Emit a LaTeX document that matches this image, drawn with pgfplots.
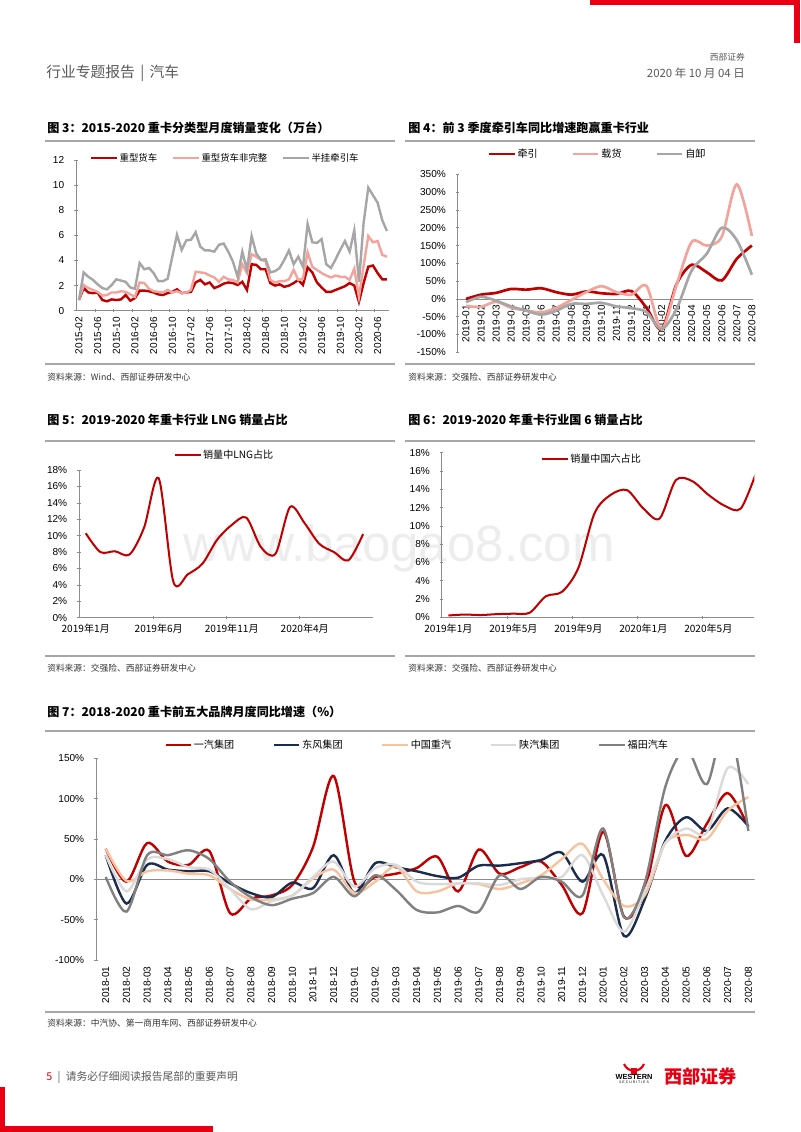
\documentclass[border=0pt]{standalone}
\usepackage{pgfplots}
\pgfplotsset{compat=1.18}
\usepackage{pgfplotstable}
\usepackage{fontspec}
\setmainfont{Liberation Sans}
\newfontfamily\cjk{Noto Sans CJK SC}

\definecolor{dred}{HTML}{C00000}
\definecolor{pinkc}{HTML}{F2A49C}
\definecolor{grayc}{HTML}{A6A6A6}
\definecolor{navyc}{HTML}{1C2C4C}
\definecolor{peachc}{HTML}{F7C39E}
\definecolor{lgrayc}{HTML}{DADADA}
\definecolor{mgrayc}{HTML}{808080}
\definecolor{axisc}{HTML}{8C8C8C}
\definecolor{sepc}{HTML}{A6A6A6}
\definecolor{brand}{HTML}{E60012}
\definecolor{txtg}{HTML}{595959}

\pgfplotsset{
  base/.style={
    scale only axis,
    axis line style={axisc, line width=0.6pt, -},
    every non boxed x axis/.append style={x axis line style=-},
    every non boxed y axis/.append style={y axis line style=-},
    tick style={axisc, line width=0.5pt},
    tick label style={font=\fontsize{7.5}{8}\selectfont, text=black},
    yticklabel style={xshift=-4pt},
    major tick length=2.5pt,
    minor tick length=2.5pt,
    tick align=inside,
    legend style={draw=none, fill=none, inner sep=0pt, outer sep=0pt, anchor=west,
      legend columns=-1, font=\cjk\fontsize{7.5}{8}\selectfont, nodes={inner sep=1.2pt}},
    legend image code/.code={\draw[##1] (0pt,0pt) -- (19pt,0pt);},
  },
}

% chart 3: monthly sales (10k units)
\pgfplotstableread{
i r p g
0 0.85 0.85 0.85
1 1.8 2.05 3.05
2 1.45 1.8 2.7
3 1.4 1.65 2.45
4 1.45 1.5 2.1
5 0.85 1.2 1.8
6 0.75 1.25 1.7
7 0.9 1.45 2.05
8 0.85 1.45 2.5
9 0.9 1.55 2.4
10 1.25 1.5 2.3
11 0.8 1.3 1.85
12 1.0 1.1 1.75
13 1.6 2.25 3.8
14 1.6 2.2 3.3
15 1.55 1.75 3.4
16 1.45 1.55 3.0
17 1.3 1.5 2.35
18 1.25 1.45 2.35
19 1.4 1.65 2.55
20 1.5 1.45 4.3
21 1.7 1.55 6.05
22 1.4 1.4 4.85
23 1.45 1.45 5.6
24 1.5 1.65 5.65
25 2.25 3.1 6.25
26 2.45 3.05 5.1
27 2.1 3.0 4.8
28 2.25 2.8 4.8
29 1.8 2.65 4.7
30 1.95 2.3 5.25
31 2.15 2.7 5.35
32 2.25 2.5 4.7
33 2.2 2.45 3.9
34 2.05 2.25 2.7
35 2.3 3.7 4.7
36 1.65 3.0 3.25
37 3.7 4.5 5.95
38 3.65 4.3 4.55
39 3.3 4.05 4.05
40 3.3 3.95 4.1
41 2.2 2.45 3.05
42 2.0 2.25 3.15
43 2.1 2.35 3.4
44 1.9 2.35 4.05
45 2.0 2.5 4.8
46 2.2 3.25 3.7
47 2.45 2.45 4.3
48 2.05 2.55 3.5
49 3.45 4.65 6.9
50 3.05 3.5 5.45
51 2.25 3.25 5.4
52 1.85 3.0 5.7
53 1.5 2.8 3.7
54 1.5 2.65 3.4
55 1.65 2.8 4.1
56 1.8 2.7 4.85
57 1.95 2.7 5.55
58 2.2 2.45 4.7
59 2.0 3.35 6.4
60 0.7 1.1 2.3
61 2.2 3.6 7.0
62 3.5 5.95 9.8
63 3.6 5.45 9.2
64 3.0 5.55 8.6
65 2.5 4.45 7.2
66 2.5 4.3 6.35
}\dataA

% chart 4: yoy growth by type (%)
\pgfplotstableread{
i q z x
0 0 -20 -9
1 12 -22 6
2 17 -8 -5
3 28 -25 -21
4 26 -32 -33
5 30 -38 -44
6 19 -25 -33
7 12 -3 -14
8 21 19 -14
9 16 36 -11
10 14 19 -21
11 22 12 -26
12 -25 36 -37
13 -85 -85 -85
14 42 40 -28
15 96 160 80
16 75 150 127
17 52 175 200
18 113 322 165
19 150 177 68
}\dataB

% chart 5: LNG share (%)
\pgfplotstableread{
i v
0 10.3
1 8.0
2 8.1
3 7.7
4 11.0
5 17.0
6 4.4
7 5.3
8 6.6
9 9.5
10 11.3
11 12.2
12 8.6
13 7.8
14 13.5
15 11.5
16 9.0
17 8.0
18 7.0
19 10.2
}\dataC

% chart 6: China VI share (%)
\pgfplotstableread{
i v
0 0.2
1 0.3
2 0.25
3 0.35
4 0.4
5 0.5
6 2.3
7 2.8
8 5.4
9 11.4
10 13.4
11 13.9
12 11.9
13 10.8
14 15.0
15 14.9
16 13.4
17 12.2
18 11.9
19 16.1
}\dataD

% chart 7: top five brands yoy (%)
\pgfplotstableread{
i a b c d e
0 38 30 38 30 3
1 -3 -30 -2 -15 -40
2 45 18 10 25 30
3 22 12 11 25 30
4 18 10 7 15 36
5 35 10 5 12 25
6 -42 -5 -12 -12 -3
7 -24 -17 -25 -37 -22
8 -20 -22 -25 -27 -32
9 -7 -4 -20 -20 -24
10 40 -11 1 3 -17
11 128 30 12 22 3
12 -3 -17 -17 -9 -21
13 3 20 -3 14 5
14 7 15 16 18 -13
15 14 10 -15 -3 -38
16 28 4 -15 -6 -41
17 -15 2 -5 -5 -33
18 37 17 -6 -5 -40
19 7 17 -12 -7 5
20 15 20 -5 0 -12
21 22 24 5 2 3
22 -7 33 25 3 -3
23 -42 -3 44 30 -20
24 59 30 0 -20 63
25 -46 -70 -33 -65 -47
26 -15 -25 -20 -15 -5
27 92 48 45 45 115
28 29 77 55 63 162
29 69 60 50 58 118
30 107 88 85 138 200
31 65 66 102 118 60
}\dataE

\begin{document}
\begin{tikzpicture}

\begin{scope}[x=0.7441pt, y=-0.7441pt]
  % axis anchors (south west of each plot box)
  \coordinate (a3) at (76,310.7);
  \coordinate (a4) at (457.7,352.3);
  \coordinate (a5) at (79,617.7);
  \coordinate (a6) at (441.7,617.3);
  \coordinate (a7) at (96,960);

  % page decoration
  \fill[brand] (590,0) rectangle (800,5);
  \fill[brand] (794,0) rectangle (800,43);
  \fill[brand] (0,1087) rectangle (5,1132);
  \fill[brand] (0,1126) rectangle (213,1132);

  \node[anchor=west, inner sep=0, text=txtg, font=\cjk\fontsize{11}{12}\selectfont] at (46,73) {行业专题报告\hspace{4pt}|\hspace{4pt}汽车};
  \node[anchor=east, inner sep=0, text=txtg, font=\cjk\fontsize{6.5}{7}\selectfont] at (745,57) {西部证券};
  \node[anchor=east, inner sep=0, text=txtg, font=\cjk\fontsize{8.5}{9}\selectfont] at (745,73) {2020 年 10 月 04 日};

  % watermark
  \node[text=black!7, font=\fontsize{38}{40}\selectfont] at (399,548) {www.baogao8.com};

  % titles
  \begin{scope}[every node/.style={anchor=west, inner sep=0, font=\cjk\bfseries\fontsize{9}{10}\selectfont}]
    \node at (47,128) {图 3：2015-2020 重卡分类型月度销量变化（万台）};
    \node at (408,128) {图 4：前 3 季度牵引车同比增速跑赢重卡行业};
    \node at (47,420) {图 5：2019-2020 年重卡行业 LNG 销量占比};
    \node at (408,420) {图 6：2019-2020 年重卡行业国 6 销量占比};
    \node at (47,712) {图 7：2018-2020 重卡前五大品牌月度同比增速（\%）};
  \end{scope}

  % separator rules
  \begin{scope}[sepc, line width=1.4pt]
    \draw (45,141) -- (395,141);  \draw (45,364) -- (395,364);
    \draw (405,141) -- (755,141); \draw (405,364) -- (755,364);
    \draw (45,441) -- (395,441);  \draw (45,656) -- (395,656);
    \draw (405,441) -- (755,441); \draw (405,656) -- (755,656);
    \draw (45,731) -- (755,731);  \draw (45,1012) -- (755,1012);
  \end{scope}

  % sources
  \begin{scope}[every node/.style={anchor=west, inner sep=0, text=black!80, font=\cjk\fontsize{6.5}{7}\selectfont}]
    \node at (47,377) {资料来源：Wind、西部证券研发中心};
    \node at (408,377) {资料来源：交强险、西部证券研发中心};
    \node at (47,668) {资料来源：交强险、西部证券研发中心};
    \node at (408,668) {资料来源：交强险、西部证券研发中心};
    \node at (47,1023) {资料来源：中汽协、第一商用车网、西部证券研发中心};
  \end{scope}

  % footer
  \node[anchor=west, inner sep=0, font=\cjk\fontsize{8}{9}\selectfont] at (46,1077)
    {\textcolor{brand}{5}\hspace{4pt}\textcolor{txtg}{|}\hspace{4pt}\textcolor{txtg}{请务必仔细阅读报告尾部的重要声明}};
  \draw[brand, line width=1.6pt] (624,1064) .. controls (628,1073) and (640,1073) .. (644,1064);
  \fill[brand] (631,1068) rectangle (637,1075);
  \node[anchor=center, inner sep=0, font=\bfseries\fontsize{5.5}{6}\selectfont] at (634,1077) {WESTERN};
  \node[anchor=center, inner sep=0, font=\fontsize{2.6}{3}\selectfont] at (634,1082) {S E C U R I T I E S};
  \node[anchor=west, inner sep=0, text=brand, font=\cjk\bfseries\fontsize{13.5}{14}\selectfont] at (664,1076) {西部证券};
\end{scope}

% ---------- chart 3 ----------
\begin{axis}[base, at={(a3)}, anchor=south west, width=233.1pt, height=112.1pt,
  xmin=-0.64, xmax=66.5, ymin=0, ymax=12,
  axis x line=bottom, axis y line=left,
  ytick={0,2,...,12}, yticklabels={0,2,4,6,8,10,12},
  xtick={0,4,...,64},
  xticklabels={2015-02,2015-06,2015-10,2016-02,2016-06,2016-10,2017-02,2017-06,2017-10,2018-02,2018-06,2018-10,2019-02,2019-06,2019-10,2020-02,2020-06},
  x tick label style={rotate=90, anchor=east},
  major x tick style={draw=none},
  minor xtick={3.4,7.4,...,63.4},
  legend style={at={(0.045,1.013)}, font=\cjk\fontsize{7}{8}\selectfont,
    /tikz/every even column/.append style={column sep=9.7pt}},
]
\addplot[dred, line width=1.8pt] table[x=i, y=r] {\dataA};
\addlegendentry{重型货车}
\addplot[pinkc, line width=1.8pt] table[x=i, y=p] {\dataA};
\addlegendentry{重型货车非完整}
\addplot[grayc, line width=1.8pt] table[x=i, y=g] {\dataA};
\addlegendentry{半挂牵引车}
\end{axis}

% ---------- chart 4 ----------
\begin{axis}[base, at={(a4)}, anchor=south west, width=220.0pt, height=132.4pt,
  xmin=-0.55, xmax=19.1, ymin=-150, ymax=350,
  axis x line=middle, axis y line=left,
  hide obscured y ticks=false, hide obscured x ticks=false,
  ytick={-150,-100,...,350},
  yticklabels={-150\%,-100\%,-50\%,0\%,50\%,100\%,150\%,200\%,250\%,300\%,350\%},
  xtick={0,...,19},
  xticklabels={2019-01,2019-02,2019-03,2019-04,2019-05,2019-06,2019-07,2019-08,2019-09,2019-10,2019-11,2019-12,2020-01,2020-02,2020-03,2020-04,2020-05,2020-06,2020-07,2020-08},
  x tick label style={rotate=90, anchor=east},
  major x tick style={draw=none},
  legend style={at={(0.1015,1.114)},
    /tikz/every even column/.append style={column sep=24pt}},
]
\addplot[dred, line width=2pt, smooth] table[x=i, y=q] {\dataB};
\addlegendentry{牵引}
\addplot[pinkc, line width=2pt, smooth] table[x=i, y=z] {\dataB};
\addlegendentry{载货}
\addplot[grayc, line width=2pt, smooth] table[x=i, y=x] {\dataB};
\addlegendentry{自卸}
\end{axis}

% ---------- chart 5 ----------
\begin{axis}[base, at={(a5)}, anchor=south west, width=218.8pt, height=109.9pt,
  xmin=-0.46, xmax=19.68, ymin=0, ymax=18,
  axis x line=bottom, axis y line=left,
  ytick={0,2,...,18},
  yticklabels={0\%,2\%,4\%,6\%,8\%,10\%,12\%,14\%,16\%,18\%},
  xtick={0,5,10,15},
  xticklabels={2019年1月,2019年6月,2019年11月,2020年4月},
  xticklabel style={font=\cjk\fontsize{7.5}{8}\selectfont},
  major x tick style={draw=none},
  minor xtick={4.6,9.6,14.6},
  legend style={at={(0.323,1.10)}},
]
\addplot[dred, line width=1.5pt, smooth] table[x=i, y=v] {\dataC};
\addlegendentry{销量中LNG占比}
\end{axis}

% ---------- chart 6 ----------
\begin{axis}[base, at={(a6)}, anchor=south west, width=232.6pt, height=122.5pt,
  xmin=-0.41, xmax=18.83, ymin=0, ymax=18,
  axis x line=bottom, axis y line=left,
  ytick={0,2,...,18},
  yticklabels={0\%,2\%,4\%,6\%,8\%,10\%,12\%,14\%,16\%,18\%},
  xtick={0,4,8,12,16},
  xticklabels={2019年1月,2019年5月,2019年9月,2020年1月,2020年5月},
  xticklabel style={font=\cjk\fontsize{7.5}{8}\selectfont},
  major x tick style={draw=none},
  minor xtick={3.6,7.6,11.6,15.6},
  legend style={at={(0.318,0.962)}},
]
\addplot[dred, line width=1.5pt, smooth] table[x=i, y=v] {\dataD};
\addlegendentry{销量中国六占比}
\end{axis}

% ---------- chart 7 ----------
\begin{axis}[base, at={(a7)}, anchor=south west, width=490.0pt, height=150.1pt,
  xmin=-0.47, xmax=31.3, ymin=-100, ymax=150,
  axis x line=bottom, axis y line=left,
  x axis line style={draw opacity=0},
  ytick={-100,-50,...,150},
  yticklabels={-100\%,-50\%,0\%,50\%,100\%,150\%},
  xtick={0,...,31},
  xticklabels={2018-01,2018-02,2018-03,2018-04,2018-05,2018-06,2018-07,2018-08,2018-09,2018-10,2018-11,2018-12,2019-01,2019-02,2019-03,2019-04,2019-05,2019-06,2019-07,2019-08,2019-09,2019-10,2019-11,2019-12,2020-01,2020-02,2020-03,2020-04,2020-05,2020-06,2020-07,2020-08},
  x tick label style={rotate=90, anchor=east},
  major x tick style={draw=none},
  legend style={at={(0.1037,1.066)},
    /tikz/every even column/.append style={column sep=27.5pt}},
]
\addplot[axisc, line width=0.6pt, forget plot] coordinates {(-0.47,0) (31.3,0)};
\addplot[dred, line width=1.8pt, smooth] table[x=i, y=a] {\dataE};
\addlegendentry{一汽集团}
\addplot[navyc, line width=1.8pt, smooth] table[x=i, y=b] {\dataE};
\addlegendentry{东风集团}
\addplot[peachc, line width=1.8pt, smooth] table[x=i, y=c] {\dataE};
\addlegendentry{中国重汽}
\addplot[lgrayc, line width=1.8pt, smooth] table[x=i, y=d] {\dataE};
\addlegendentry{陕汽集团}
\addplot[mgrayc, line width=1.8pt, smooth] table[x=i, y=e] {\dataE};
\addlegendentry{福田汽车}
\end{axis}

\pgfresetboundingbox
\path (0pt,0pt) rectangle (595.28pt,-842.3pt);
\end{tikzpicture}
\end{document}
